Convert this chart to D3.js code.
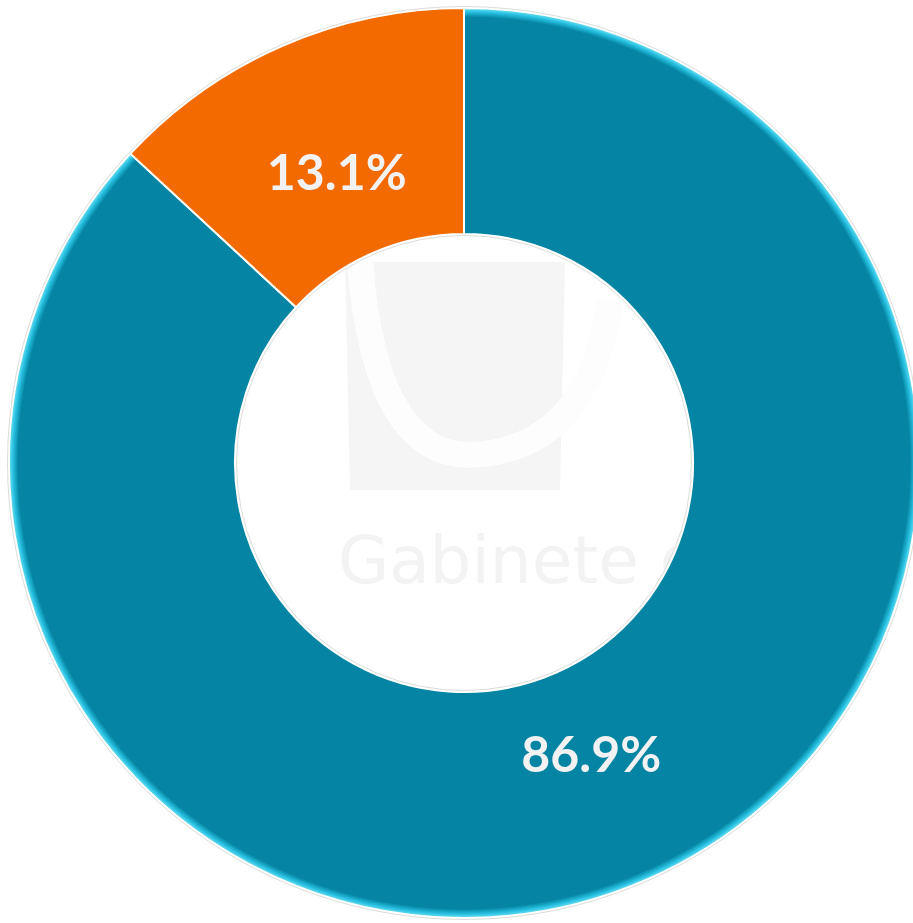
<!DOCTYPE html>
<html>
<head>
<meta charset="utf-8">
<script src="https://d3js.org/d3.v7.min.js"></script>
<style>
  body { margin: 0; background: #fff; }
  svg { display: block; }
</style>
</head>
<body>
<svg id="chart" width="913" height="923"></svg>
<script>
// slice data (13.1% orange, 86.9% blue), blue starts at 12 o'clock going clockwise
const labels = ["B", "A"];
const values = [86.9, 13.1];
const colors = ["#0585a3", "#f26a00"];

const svg = d3.select("#chart");
const cx = 464, cy = 463;
const outerR = 455, innerR = 229, labelR = 318;

const defs = svg.append("defs");
// bevel-ish highlight on the outer edge of the blue slice (coords relative to the group)
const grad = defs.append("radialGradient")
    .attr("id", "blueEdge")
    .attr("gradientUnits", "userSpaceOnUse")
    .attr("cx", 0).attr("cy", 0).attr("r", outerR);
grad.append("stop").attr("offset", "0.98").attr("stop-color", "#0585a3");
grad.append("stop").attr("offset", "0.991").attr("stop-color", "#27bfe0");
grad.append("stop").attr("offset", "1").attr("stop-color", "#6fe2f5");

// faint watermark behind the donut
const wm = svg.append("g").attr("fill", "#f5f5f5");
wm.append("path")
    .attr("d", "M345,262 L565,262 L560,490 L350,490 Z");
wm.append("path")
    .attr("d", "M360,262 Q375,455 470,455 Q590,450 610,300")
    .attr("fill", "none").attr("stroke", "#fdfdfd").attr("stroke-width", 26);
wm.append("text")
    .attr("x", 338).attr("y", 583)
    .attr("fill", "#f3f3f3")
    .attr("font-family", "'DejaVu Sans', sans-serif")
    .attr("font-size", 66)
    .text("Gabinete de");

const g = svg.append("g").attr("transform", `translate(${cx},${cy})`);

const pie = d3.pie().sort(null).value(d => d)
    .startAngle(0).endAngle(2 * Math.PI);
const arcs = pie(values);

const arc = d3.arc().innerRadius(innerR).outerRadius(outerR);
const labelArc = d3.arc().innerRadius(labelR).outerRadius(labelR);

g.selectAll("path.slice")
    .data(arcs)
    .join("path")
    .attr("class", "slice")
    .attr("d", arc)
    .attr("fill", (d, i) => i === 0 ? "url(#blueEdge)" : colors[i])
    .attr("stroke", "#ffffff")
    .attr("stroke-width", 2);

// thin grey outline around the ring
g.append("circle").attr("r", outerR + 1.5).attr("fill", "none").attr("stroke", "#dcdcdc").attr("stroke-width", 1);
g.append("circle").attr("r", innerR - 1.5).attr("fill", "none").attr("stroke", "#dcdcdc").attr("stroke-width", 1);

g.selectAll("text.lbl")
    .data(arcs)
    .join("text")
    .attr("class", "lbl")
    .attr("transform", d => `translate(${labelArc.centroid(d)})`)
    .attr("text-anchor", "middle")
    .attr("dy", "0.36em")
    .attr("font-family", "Lato, 'Open Sans', sans-serif")
    .attr("font-weight", "bold")
    .attr("font-size", 50)
    .attr("fill", "#f2f2f2")
    .text(d => d.data.toFixed(1) + "%");
</script>
</body>
</html>
